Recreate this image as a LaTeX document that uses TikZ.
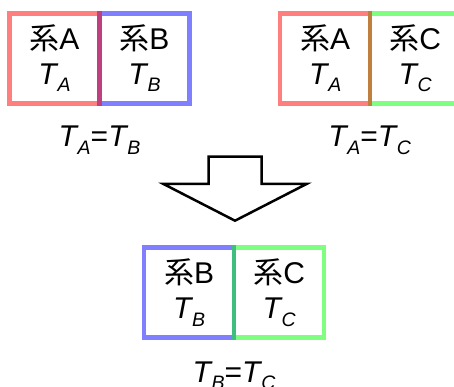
\documentclass[tikz,border=0pt]{standalone}
\usepackage{fontspec}
\setmainfont{Liberation Sans}
\newfontfamily\cjk{Noto Sans CJK JP}
\usetikzlibrary{positioning}
\newcommand{\temp}[1]{\textit{T}\kern-1pt\raisebox{-7.5pt}{\fontsize{19.5pt}{19.5pt}\selectfont\textit{#1}}}
\newcommand{\sysname}[1]{{\cjk 系}#1}

\begin{document}
\begin{tikzpicture}[x=1pt,y=-1pt,
    sysbox/.style={draw,draw opacity=0.5,line width=4.5pt,minimum width=90pt,
      minimum height=90pt,inner sep=0pt,outer sep=0pt,align=center,
      font=\fontsize{30pt}{35pt}\selectfont},
    eqn/.style={anchor=base,inner sep=0pt,font=\fontsize{30pt}{35pt}\selectfont}]
    \useasboundingbox (0,0) rectangle (454,387);
    \clip (0,0) rectangle (454,387);

    \node[sysbox,draw=blue] (b1) at (144.5,58.3) {\sysname{B}\\\temp{B}};
    \node[sysbox,draw=red,left=0pt of b1] (a1) {\sysname{A}\\\temp{A}};
    \node[eqn] (ab) at (99.5,147) {\temp{A}=\temp{B}};

    \node[sysbox,draw=green] (c1) at (415.2,58.3) {\sysname{C}\\\temp{C}};
    \node[sysbox,draw=red,left=0pt of c1] (a2) {\sysname{A}\\\temp{A}};
    \node[eqn] (ac) at (369.7,147) {\temp{A}=\temp{C}};

    \draw[line width=2.5pt,line join=miter] (208.5,156.7) -- (261.5,156.7) -- (261.5,184)
      -- (306.5,184) -- (235,220.7) -- (163.5,184) -- (208.5,184) -- cycle;

    \node[sysbox,draw=blue] (b2) at (189.2,292.5) {\sysname{B}\\\temp{B}};
    \node[sysbox,draw=green,right=0pt of b2] (c2) {\sysname{C}\\\temp{C}};
    \node[eqn] (bc) at (234,382) {\temp{B}=\temp{C}};
  \end{tikzpicture}
\end{document}
